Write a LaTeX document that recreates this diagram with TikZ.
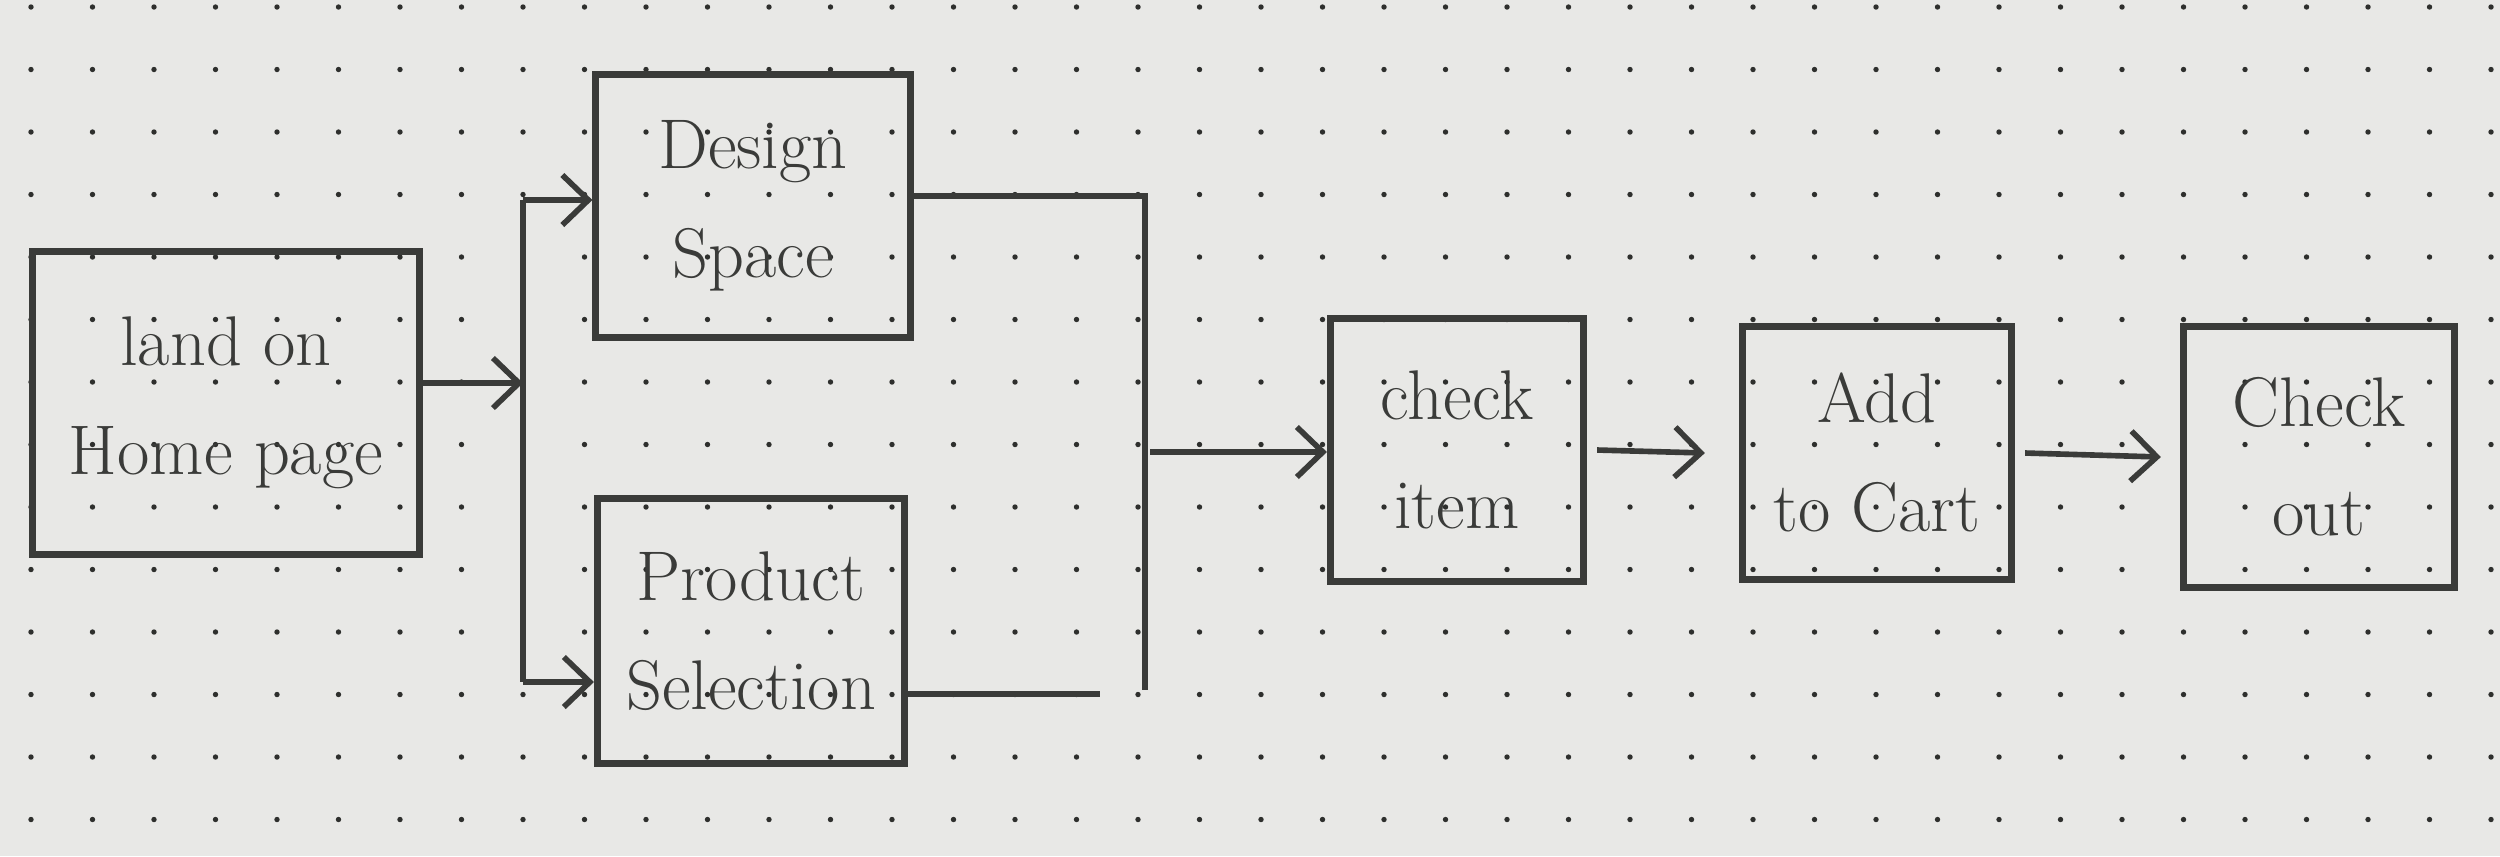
\documentclass[tikz,border=0pt]{standalone}
\usepackage{tikz}
\usetikzlibrary{arrows.meta,positioning,calc}
\definecolor{paper}{HTML}{E8E8E6}
\definecolor{ink}{HTML}{3A3B39}
\definecolor{dotink}{HTML}{2E2F2D}

\begin{document}
\begin{tikzpicture}[
  x=0.01cm, y=-0.01cm,
  font=\fontsize{20}{31}\selectfont,
  box/.style={draw=ink, line width=2pt, align=center, inner sep=2pt, text=ink},
  arr/.style={-{Straight Barb[length=2.6mm,width=5mm]}, line width=1.6pt, ink},
  wire/.style={line width=1.6pt, ink},
]
% ---------- paper with dot grid ----------
\fill[paper] (0,0) rectangle (2500,856);
\foreach \i in {0,...,40}
  \foreach \j in {0,...,13}
    \fill[dotink] ({31+61.5*\i},{7+62.5*\j}) circle[radius=0.27mm];
% ---------- the steps ----------
\node[box, minimum width=3.87cm, minimum height=3.03cm] (land) at (226,403) {land on\\Home page};
\node[box, minimum width=3.14cm, minimum height=2.62cm] (design) at (753,206) {Design\\Space};
\node[box, minimum width=3.07cm, minimum height=2.64cm] (product) at (751,631) {Product\\Selection};
\node[box, minimum width=2.53cm, minimum height=2.63cm] (check) at (1457,450) {check\\item};
\node[box, minimum width=2.69cm, minimum height=2.52cm] (addcart) at (1877,453) {Add\\to Cart};
\node[box, minimum width=2.71cm, minimum height=2.60cm] (checkout) at (2319,457) {Check\\out};
% ---------- split after the home page ----------
\coordinate (split) at (523,383);
\coordinate (ttop) at (523,200);
\coordinate (tbot) at (523,682);
\draw[arr] (land.east |- split) -- (split);
\draw[wire] (ttop) -- (tbot);
\draw[arr] (ttop) -- (ttop -| design.west);
\draw[arr] (tbot) -- (tbot -| product.west);
% ---------- merge into check item ----------
\coordinate (mtop) at (1145,196);
\coordinate (mbot) at (1145,690);
\coordinate (pend) at (1100,694);
\coordinate (mout) at (1150,452);
\draw[wire] (design.east |- mtop) -- (mtop) -- (mbot);
\draw[wire] (product.east |- pend) -- (pend);
\draw[arr] (mout) -- (mout -| check.west);
% ---------- on to the cart ----------
\draw[arr] ([xshift=1mm]check.east) -- ([xshift=-3.4mm]addcart.west);
\draw[arr] ([xshift=1mm]addcart.east) -- ([xshift=-1.9mm]checkout.west);
\end{tikzpicture}
\end{document}
